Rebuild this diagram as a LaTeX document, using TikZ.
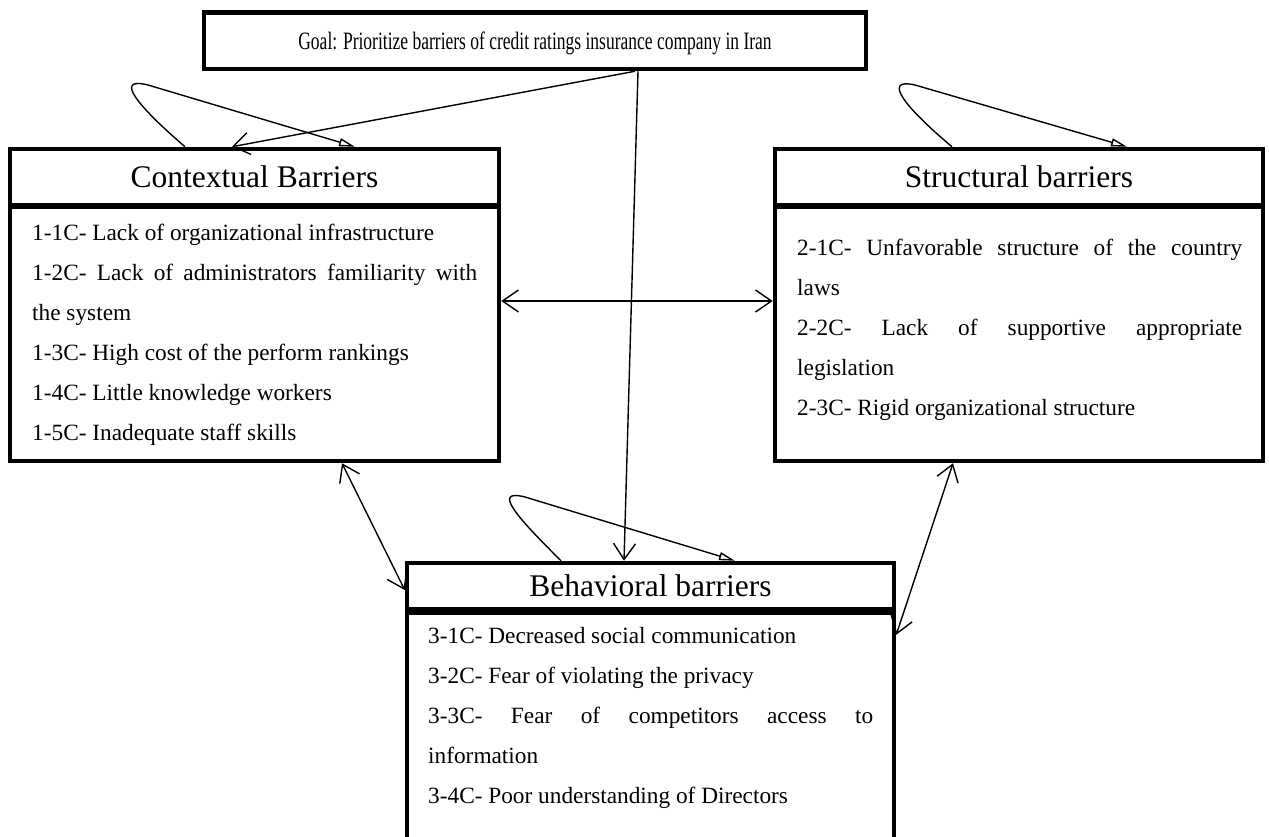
\documentclass[tikz,border=0pt]{standalone}
\usepackage{fontspec}
\setmainfont{Liberation Serif}
\newfontfamily\goalfont[FakeStretch=0.70]{Liberation Serif}
\usetikzlibrary{arrows.meta,calc}
\newcommand\jl[1]{\makebox[445pt][s]{#1}}
\begin{document}
\begin{tikzpicture}[x=1pt,y=-1pt,
  box/.style={draw, line width=4.5pt, rectangle, inner sep=0pt, fill=white},
  titletext/.style={font=\fontsize{31.5}{36}\selectfont},
  bodytext/.style={font=\fontsize{23.3}{40}\selectfont, align=left, inner sep=0pt, anchor=north west},
  conn/.style={line width=1.4pt, {Straight Barb[length=16pt,width=22pt]}-{Straight Barb[length=16pt,width=22pt]}},
  conn1/.style={line width=1.4pt, -{Straight Barb[length=16pt,width=22pt]}},
  selfloop/.style={line width=1.4pt, -{Triangle[open,length=16pt,width=8pt]}}]
\useasboundingbox (0,0) rectangle (1269,836);
\clip (0,0) rectangle (1269,836);

% Goal
\node[box, minimum width=662pt, minimum height=56.5pt, font={\goalfont\fontsize{25}{30}\selectfont}, text depth=0pt] (goal) at (535,40.75) {Goal: Prioritize barriers of credit ratings insurance company in Iran};

% Contextual
\node[box, minimum width=489pt, minimum height=56pt, titletext] (ctxT) at (254.5,177) {Contextual Barriers};
\node[box, minimum width=489pt, minimum height=254pt] (ctxB) at (254.5,334) {};
\node[bodytext] (ctxX) at (32,224) {1-1C- Lack of organizational infrastructure\\
\jl{1-2C- Lack of administrators familiarity with}\\
the system\\
1-3C- High cost of the perform rankings\\
1-4C- Little knowledge workers\\
1-5C- Inadequate staff skills};

% Structural
\node[box, minimum width=488pt, minimum height=56pt, titletext] (strT) at (1019,177) {Structural barriers};
\node[box, minimum width=488pt, minimum height=254pt] (strB) at (1019,334) {};
\node[bodytext] (strX) at (797,239) {\jl{2-1C- Unfavorable structure of the country}\\
laws\\
\jl{2-2C- Lack of supportive appropriate}\\
legislation\\
2-3C- Rigid organizational structure};

% Behavioral
\node[box, minimum width=487pt, minimum height=46pt, titletext] (behT) at (650.5,586) {Behavioral barriers};
\node[box, minimum width=487pt, minimum height=387pt] (behB) at (650.5,806.5) {};
\node[bodytext] (behX) at (428,627) {3-1C- Decreased social communication\\
3-2C- Fear of violating the privacy\\
\jl{3-3C- Fear of competitors access to}\\
information\\
3-4C- Poor understanding of Directors};

% Connectors
\draw[conn1] ([xshift=100pt]goal.south) -- ([xshift=-22.5pt]ctxT.north);
\draw[conn1] ([xshift=103pt]goal.south) -- ([xshift=-26.5pt]behT.north);
\draw[conn] ([yshift=33pt]ctxB.east) -- ([yshift=33pt]strB.west);
\draw[conn] ([xshift=87.5pt]ctxB.south) -- ([yshift=-4pt]behT.west);
\draw[conn] ([xshift=-66pt]strB.south) -- ([yshift=-24pt]behB.north east);

% Self loops
\draw[selfloop] ([xshift=-69.5pt]ctxT.north) .. controls (140,108) and (112,76) .. (148,85) -- ([xshift=100.5pt]ctxT.north);
\draw[selfloop] ([xshift=-67pt]strT.north) .. controls (908,110) and (880,77) .. (915,85) -- ([xshift=108pt]strT.north);
\draw[selfloop] ([xshift=-89.5pt]behT.north) .. controls (520,520) and (490,488) .. (525,497) -- ([xshift=84.5pt]behT.north);
\end{tikzpicture}
\end{document}
